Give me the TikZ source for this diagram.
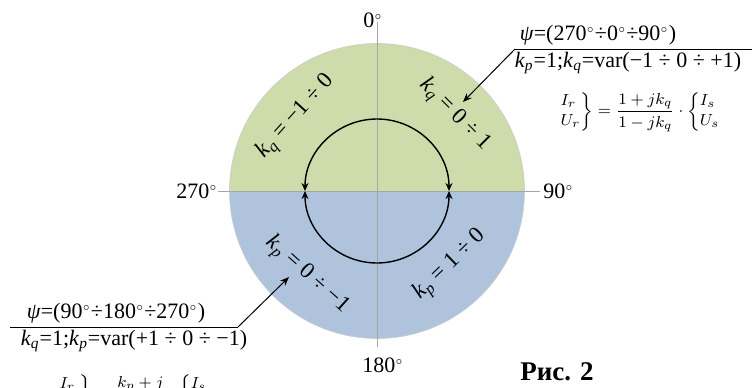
\documentclass[tikz,border=0pt]{standalone}
\usepackage{amsmath}
\usepackage{fontspec}
\setmainfont{Liberation Serif}
\usetikzlibrary{arrows.meta}
\definecolor{upperfill}{RGB}{205,220,170}
\definecolor{lowerfill}{RGB}{176,195,221}
\newcommand{\kk}[1]{\textit{k}\textsubscript{\textit{#1}}}
\newcommand{\dg}{$^{\scriptscriptstyle\circ}$}
\begin{document}
\begin{tikzpicture}[x=0.5pt,y=0.5pt,
    axis/.style={gray!70,line width=0.4pt},
    lbl/.style={font=\fontsize{11}{13}\selectfont,inner sep=0pt},
    sector/.style={font=\fontsize{11.5}{13}\selectfont,inner sep=0pt},
    formula/.style={font=\fontsize{8.5}{10}\selectfont,inner sep=0pt},
    callout/.style={line width=0.5pt,-{Stealth[length=4.5pt,width=3.5pt]}}]
  \clip (0,0) rectangle (752,387);
  \coordinate (o) at (377,196);
  % half discs
  \fill[upperfill] (o) ++(-147.5,0) arc (180:0:147.5) -- cycle;
  \fill[lowerfill] (o) ++(147.5,0) arc (0:-180:147.5) -- cycle;
  \draw[gray!40,line width=0.3pt] (o) circle (147.5);
  % axes
  \draw[axis] (377,365) -- (377,40);
  \draw[axis] (218,196) -- (540,196);
  \node[lbl,anchor=base west] (top) at (363,360) {0\dg};
  \node[lbl,anchor=base west] (bottom) at (362,15) {180\dg};
  \node[lbl,anchor=base west] (left) at (176,189) {270\dg};
  \node[lbl,anchor=base west] (right) at (543,189) {90\dg};
  % inner circle
  \draw[line width=0.7pt,{Stealth[length=4pt,width=3.5pt]}-{Stealth[length=4pt,width=3.5pt]}] (o) ++(-72,0) arc (180:0:72);
  \draw[line width=0.7pt,{Stealth[length=4pt,width=3.5pt]}-{Stealth[length=4pt,width=3.5pt]}] (o) ++(-72,0) arc (180:360:72);
  % sectors
  \node[sector,rotate=48] (kqneg) at (296,270) {\kk{q} = −1 ÷ 0};
  \node[sector,rotate=-45] (kqpos) at (455,272) {\kk{q} = 0 ÷ 1};
  \node[sector,rotate=-42] (kpneg) at (307,112) {\kk{p} = 0 ÷ −1};
  \node[sector,rotate=44] (kppos) at (450,122) {\kk{p} = 1 ÷ 0};
  % upper callout
  \coordinate (ruleup) at (515,338);
  \coordinate (ruleupend) at (752,338);
  \coordinate (tipup) at (463,285);
  \draw[line width=0.5pt] (ruleup) -- (ruleupend);
  \draw[callout] (ruleup) -- (tipup);
  \node[lbl,anchor=base] (psiup) at (598,347) {\textit{ψ}=(270\dg÷0\dg÷90\dg)};
  \node[lbl,anchor=base] (kup) at (628,320) {\kk{p}=1;\kk{q}=var(−1 ÷ 0 ÷ +1)};
  \node[formula] (fup) at (640,275) {$\displaystyle\left.\begin{array}{@{}l@{}}I_r\\U_r\end{array}\right\}=\frac{1+jk_q}{1-jk_q}\cdot\left\{\begin{array}{@{}l@{}}I_s\\U_s\end{array}\right.$};
  % lower callout
  \coordinate (ruledn) at (238,60);
  \coordinate (ruledneend) at (10,60);
  \coordinate (tipdn) at (289,110);
  \draw[line width=0.5pt] (ruledn) -- (ruledneend);
  \draw[callout] (ruledn) -- (tipdn);
  \node[lbl,anchor=base] (psidn) at (116,69) {\textit{ψ}=(90\dg÷180\dg÷270\dg)};
  \node[lbl,anchor=base] (kdn) at (134,42) {\kk{q}=1;\kk{p}=var(+1 ÷ 0 ÷ −1)};
  \node[formula,anchor=north] (fdn) at (135,13) {$\displaystyle\left.\begin{array}{@{}l@{}}I_r\\U_r\end{array}\right\}=\frac{k_p+j}{k_p-j}\cdot\left\{\begin{array}{@{}l@{}}I_s\\U_s\end{array}\right.$};
  \node[font=\bfseries\fontsize{13.5}{16}\selectfont,inner sep=0pt,anchor=base] (fig) at (557,7) {Рис. 2};
\end{tikzpicture}
\end{document}
